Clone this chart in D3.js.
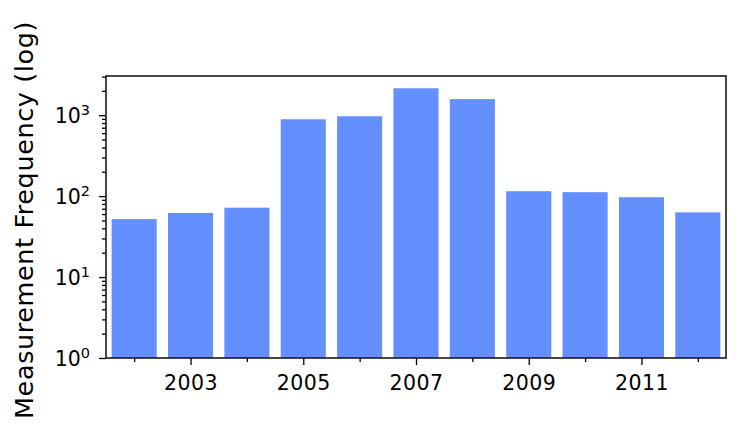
<!DOCTYPE html>
<html>
<head>
<meta charset="utf-8">
<script src="https://cdn.jsdelivr.net/npm/d3@7"></script>
<style>
  body { margin: 0; background: #fff; }
  svg text { font-family: "DejaVu Sans", sans-serif; fill: #000; }
</style>
</head>
<body>
<svg width="745" height="434"></svg>
<script>
const years = [2002, 2003, 2004, 2005, 2006, 2007, 2008, 2009, 2010, 2011, 2012];
const counts = [52, 62, 72, 890, 970, 2150, 1580, 115, 112, 97, 63];
const majorYears = [2003, 2005, 2007, 2009, 2011];
const minorYears = [2002, 2004, 2006, 2008, 2010, 2012];
const yDecades = [1, 10, 100, 1000];

const margin = {top: 76, right: 19, bottom: 76, left: 106};
const width = 745 - margin.left - margin.right;
const height = 434 - margin.top - margin.bottom;

const svg = d3.select('svg');
const g = svg.append('g').attr('transform', 'translate(' + margin.left + ',' + margin.top + ')');

let x = d3.scaleLinear().domain([2001.5, 2012.5]).range([0, width]);
let y = d3.scaleLog().domain([1, 3050]).range([height, 0]);

const barW = x(2002.4) - x(2001.6);

g.selectAll('rect.bar')
    .data(years)
    .enter()
    .append('rect')
    .attr('class', 'bar')
    .attr('x', function (d) { return x(d) - barW / 2; })
    .attr('width', barW)
    .attr('y', function (d, i) { return y(counts[i]); })
    .attr('height', function (d, i) { return height - y(counts[i]); })
    .style('fill', '#648fff');

// x axis: labelled major ticks, unlabelled minor ticks
const xMajor = g.append('g').attr('transform', 'translate(0,' + height + ')')
    .call(d3.axisBottom(x).tickValues(majorYears).tickFormat(d3.format('d')).tickSize(7).tickPadding(10));
const xMinor = g.append('g').attr('transform', 'translate(0,' + height + ')')
    .call(d3.axisBottom(x).tickValues(minorYears).tickFormat('').tickSize(4));

// y axis
let minorVals = [];
yDecades.forEach(function (d) {
    for (let k = 2; k <= 9; k++) {
        if (d * k <= 3050) minorVals.push(d * k);
    }
});
const yMajor = g.append('g')
    .call(d3.axisLeft(y).tickValues(yDecades).tickFormat('').tickSize(7));
const yMinor = g.append('g')
    .call(d3.axisLeft(y).tickValues(minorVals).tickFormat('').tickSize(4));

[xMajor, xMinor, yMajor, yMinor].forEach(function (a) {
    a.select('.domain').remove();
    a.selectAll('line').attr('stroke', '#000').attr('stroke-width', 1.3);
});
xMajor.selectAll('text')
    .style('font-size', '20.5px')
    .style('letter-spacing', '0.5px')
    .attr('dy', '0.71em');

// superscript labels for the decades
yMajor.selectAll('.tick').each(function (d) {
    const t = d3.select(this).append('text')
        .attr('x', -16)
        .attr('dy', '0.36em')
        .attr('text-anchor', 'end')
        .style('font-size', '20.5px');
    t.append('tspan').text('10');
    t.append('tspan').attr('dy', '-0.55em').style('font-size', '14.5px').text(Math.round(Math.log10(d)));
});

// frame
g.append('rect')
    .attr('width', width)
    .attr('height', height)
    .attr('fill', 'none')
    .attr('stroke', '#1a1a1a')
    .attr('stroke-width', 1.6);

svg.append('text')
    .attr('transform', 'translate(33,220) rotate(-90)')
    .attr('text-anchor', 'middle')
    .style('font-size', '25.5px')
    .style('letter-spacing', '0.6px')
    .text('Measurement Frequency (log)');
</script>
</body>
</html>
